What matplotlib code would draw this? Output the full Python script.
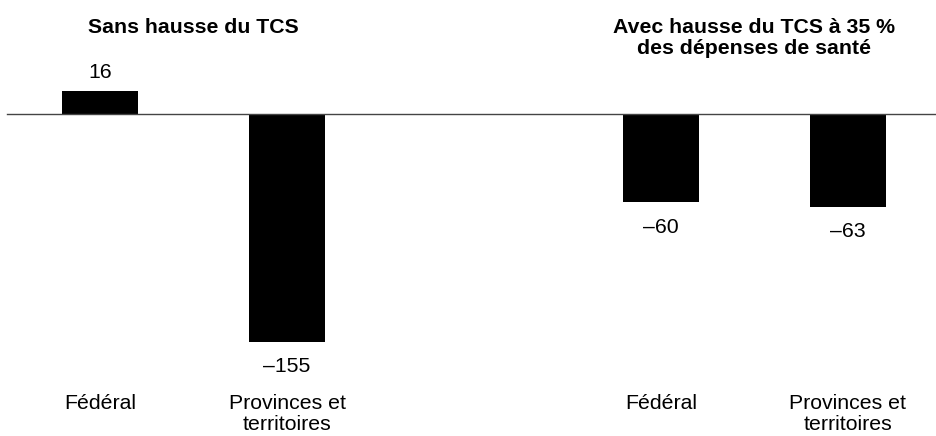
import matplotlib
matplotlib.use('Agg')
import matplotlib.pyplot as plt
import matplotlib.transforms as mtransforms

# data
panels     = ["Sans hausse du TCS", "Avec hausse du TCS à 35 %\ndes dépenses de santé"]
categories = ["Fédéral", "Provinces et\nterritoires", "Fédéral", "Provinces et\nterritoires"]
values     = [16, -155, -60, -63]
labels     = ["16", "–155", "–60", "–63"]
positions  = [0, 1, 3, 4]

plt.rcParams['font.family'] = ['Liberation Sans', 'DejaVu Sans']

W, H = 937, 436
FS = 15.3
fig = plt.figure(figsize=(W / 100, H / 100), dpi=100)
ax = fig.add_axes([0, 0, 1, 1])
ax.set_xlim(-0.535, 4.476)
ax.set_ylim(-219.0, 77.6)
ax.axis('off')

ax.bar(positions, values, width=0.41, color='black', zorder=2)
ax.axhline(0, xmin=7 / W, xmax=1, color='#444444', lw=1.0, zorder=3)

for x, v, lab in zip(positions, values, labels):
    if v >= 0:
        ax.annotate(lab, (x, v), xytext=(0, 6), textcoords='offset points',
                    ha='center', va='bottom', fontsize=FS)
    else:
        ax.annotate(lab, (x, v), xytext=(0, -11), textcoords='offset points',
                    ha='center', va='top', fontsize=FS)

trans = mtransforms.blended_transform_factory(ax.transData, ax.transAxes)
for x, c in zip(positions, categories):
    ax.text(x, 1 - 394 / H, c, transform=trans, ha='center', va='top',
            fontsize=FS, linespacing=1.15)

# panel titles centred over each pair of bars
for i, t in enumerate(panels):
    xc = (positions[2 * i] + positions[2 * i + 1]) / 2
    ax.text(xc, 1 - 18 / H, t, transform=trans, ha='center', va='top',
            fontsize=FS, fontweight='bold', linespacing=1.15)

fig.savefig('out.png', dpi=100, facecolor='white')
